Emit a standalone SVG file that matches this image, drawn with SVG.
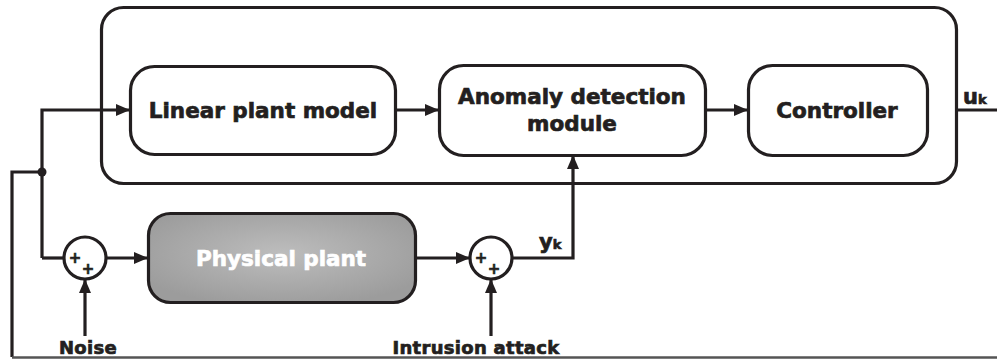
<svg xmlns="http://www.w3.org/2000/svg" width="997" height="362" viewBox="0 0 997 362">
<style>
.box{fill:#fff;stroke:#231f20;stroke-width:3.2}
.ln{fill:none;stroke:#231f20;stroke-width:3.2}
.t{font-family:"DejaVu Sans",sans-serif;font-weight:bold;fill:#231f20;stroke:#231f20;stroke-width:0.7;text-anchor:middle}
.big{font-size:21.5px}
.lab{font-size:18px;letter-spacing:0.3px}
.pl{font-family:"DejaVu Sans",sans-serif;font-weight:bold;font-size:15px;fill:#231f20;stroke:#231f20;stroke-width:0.6;text-anchor:middle}
</style>
<defs>
<marker id="ah" viewBox="0 0 14 12" refX="14" refY="6" markerWidth="14" markerHeight="12" markerUnits="userSpaceOnUse" orient="auto">
<path d="M0,0 L14,6 L0,12 Z" fill="#231f20"/>
</marker>
<radialGradient id="gp" cx="0.5" cy="0.45" r="0.6">
<stop offset="0" stop-color="#bdbdbd"/>
<stop offset="1" stop-color="#9c9c9c"/>
</radialGradient>
</defs>
<g id="system">
<rect class="box" x="101.5" y="7.5" width="855" height="176" rx="22"/>
</g>
<g id="linear-plant-model">
<rect class="box" x="130.5" y="66.5" width="265" height="88" rx="24"/>
<text class="t big" x="263" y="118">Linear plant model</text>
</g>
<g id="anomaly-detection">
<rect class="box" x="439.5" y="65.5" width="266" height="90" rx="24"/>
<text class="t big" x="572" y="104">Anomaly detection</text>
<text class="t big" x="572" y="131">module</text>
</g>
<g id="controller">
<rect class="box" x="748.5" y="65.5" width="179" height="90" rx="24"/>
<text class="t big" x="837" y="118">Controller</text>
</g>
<g id="physical-plant">
<rect x="148.5" y="213.5" width="267" height="89" rx="22" fill="url(#gp)" stroke="#231f20" stroke-width="3.2"/>
<text class="t big" x="281" y="266" style="fill:#fff;stroke:#fff">Physical plant</text>
</g>
<g id="sum1">
<circle cx="85" cy="258" r="21" fill="#fff" stroke="#231f20" stroke-width="3.2"/>
<text class="pl" x="75" y="263">+</text>
<text class="pl" x="88" y="274">+</text>
</g>
<g id="sum2">
<circle cx="491" cy="258" r="21" fill="#fff" stroke="#231f20" stroke-width="3.2"/>
<text class="pl" x="481" y="263">+</text>
<text class="pl" x="494" y="274">+</text>
</g>
<g id="connectors">
<path class="ln" d="M42,258 L42,110 L130,110" marker-end="url(#ah)"/>
<path class="ln" d="M395,110 L439,110" marker-end="url(#ah)"/>
<path class="ln" d="M705,110 L748,110" marker-end="url(#ah)"/>
<path class="ln" d="M957,110 L997,110"/>
<path class="ln" d="M42,258 L64,258"/>
<path class="ln" d="M106,258 L148,258" marker-end="url(#ah)"/>
<path class="ln" d="M415,258 L470,258" marker-end="url(#ah)"/>
<path class="ln" d="M512,258 L573,258 L573,155" marker-end="url(#ah)"/>
<path class="ln" d="M85,336 L85,279" marker-end="url(#ah)"/>
<path class="ln" d="M491,336 L491,279" marker-end="url(#ah)"/>
<path class="ln" d="M42,172 L12,172 L12,357"/>
<path d="M12,357.5 L997,357.5" fill="none" stroke="#555" stroke-width="2.5"/>
<circle cx="42" cy="172" r="4.5" fill="#231f20"/>
</g>
<g id="labels">
<text class="t lab" x="88" y="354">Noise</text>
<text class="t lab" x="476" y="354">Intrusion attack</text>
<text class="t" x="963" y="104" style="font-size:21px;text-anchor:start">u<tspan style="font-size:13px">k</tspan></text>
<text class="t" x="539" y="249" style="font-size:21px;text-anchor:start">y<tspan style="font-size:13px">k</tspan></text>
</g>
</svg>
